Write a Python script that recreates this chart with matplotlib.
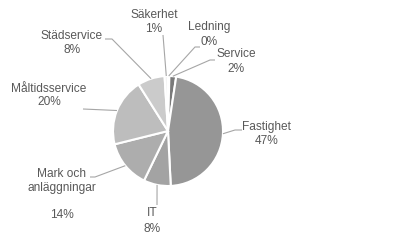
import numpy as np
import matplotlib
matplotlib.use("Agg")
import matplotlib.pyplot as plt

categories = ["Ledning", "Service", "Fastighet", "IT", "Mark och\nanläggningar",
              "Måltidsservice", "Städservice", "Säkerhet"]
values = [0.4, 2, 47, 8, 14, 20, 8, 1]
pct_labels = ["0%", "2%", "47%", "8%", "14%", "20%", "8%", "1%"]
colors = ["#6e6e6e", "#7a7a7a", "#969696", "#a3a3a3", "#adadad", "#bdbdbd", "#cbcbcb", "#f4f4f4"]

W, H = 394, 247
cx, cy, R = 168, 131, 55

fig = plt.figure(figsize=(W / 100, H / 100), dpi=100)
fig.patch.set_facecolor("white")
ax = fig.add_axes([(cx - R) / W, (H - cy - R) / H, 2 * R / W, 2 * R / H])
wedges, _ = ax.pie(values, colors=colors, startangle=90, counterclock=False, radius=1,
                   wedgeprops=dict(edgecolor="white", linewidth=1.5))
ax.set_xlim(-1, 1)
ax.set_ylim(-1, 1)
ax.set_aspect("auto")
ax.axis("off")

ov = fig.add_axes([0, 0, 1, 1])
ov.set_xlim(0, W)
ov.set_ylim(H, 0)
ov.axis("off")

# layout: (text center x, name y, pct y, leader points after wedge anchor)
layout = {
    "Ledning": (209, 27, 42, [(195, 47), (200, 47)]),
    "Service": (236, 54, 69, [(210, 60), (215, 60)]),
    "Fastighet": (267, 127, 141, [(235, 130), (242, 130)]),
    "IT": (152, 213, 229, [(157, 205)]),
    "Mark och\nanläggningar": (62, 181, 215, [(95, 177), (90, 177)]),
    "Måltidsservice": (49, 89, 102, [(83, 109)]),
    "Städservice": (72, 36, 50, [(112, 39), (105, 39)]),
    "Säkerhet": (154, 15, 29, [(163, 35)]),
}

txt_color = "#595959"
line_color = "#a6a6a6"
fs = 8.6
for w, cat, pct in zip(wedges, categories, pct_labels):
    tx, ny, py, pts = layout[cat]
    mid = np.deg2rad((w.theta1 + w.theta2) / 2)
    ax_x = cx + R * np.cos(mid)
    ax_y = cy - R * np.sin(mid)
    xs = [ax_x] + [p[0] for p in pts]
    ys = [ax_y] + [p[1] for p in pts]
    ov.plot(xs, ys, color=line_color, lw=0.8, solid_capstyle="butt")
    ov.text(tx, ny, cat, ha="center", va="center", fontsize=fs, color=txt_color,
            family="Liberation Sans", linespacing=1.25)
    ov.text(tx, py, pct, ha="center", va="center", fontsize=fs, color=txt_color,
            family="Liberation Sans")

fig.savefig("out.png", dpi=100, facecolor="white")
